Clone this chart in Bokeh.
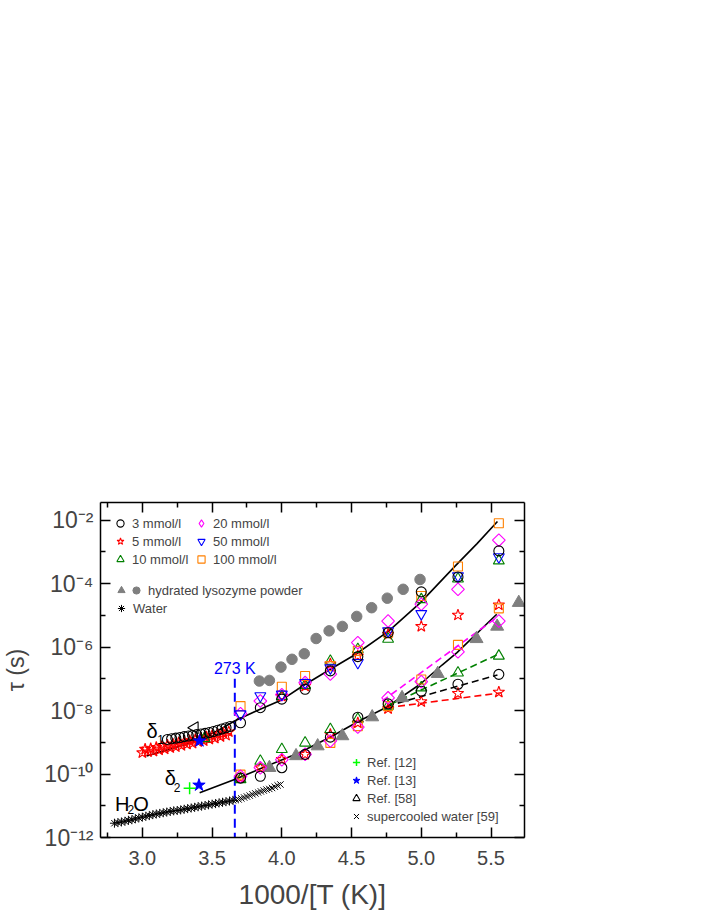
import math
from bokeh.plotting import figure
from bokeh.models import (Range1d, FixedTicker, LinearAxis, LogAxis, Legend,
                          LegendItem, Label, NumeralTickFormatter)
from bokeh.embed import file_html
from bokeh.resources import INLINE
from bokeh.core.properties import value

NAN = float("nan")
FONT = "Liberation Sans"

# ---------------- data ----------------
# measurement temperatures (as 1000/T)
inv_T = [3.704, 3.846, 4.0, 4.167, 4.348, 4.545, 4.762, 5.0, 5.263, 5.556]

# delta1 relaxation times (s)
d1_3mM   = [4.12e-9, 1.23e-8, 2.29e-8, 4.68e-8, 1.78e-7, 5.01e-7, 2.82e-6, 5.50e-5, 1.62e-4, 1.07e-3]
d1_5mM   = [NAN, NAN, 2.82e-8, 5.89e-8, 2.95e-7, 5.25e-7, 2.51e-6, 4.47e-6, 1.02e-5, 2.14e-5]
d1_10mM  = [NAN, NAN, 2.82e-8, 6.31e-8, 3.63e-7, 8.51e-7, 1.78e-6, 3.16e-5, 1.41e-4, 5.25e-4]
d1_20mM  = [7.94e-9, 2.00e-8, 3.16e-8, 7.59e-8, 1.41e-7, 1.38e-6, 6.61e-6, 2.24e-5, 6.61e-5, 2.34e-3]
d1_50mM  = [7.76e-9, 2.88e-8, 3.24e-8, 7.59e-8, 2.19e-7, 3.24e-7, 3.24e-6, 1.12e-5, 1.74e-4, 6.92e-4]
d1_100mM = [1.38e-8, NAN, 5.62e-8, 1.23e-7, 2.51e-7, 7.59e-7, 2.82e-6, 4.07e-5, 3.47e-4, 7.94e-3]

# delta2 relaxation times (s)
d2_3mM   = [7.41e-11, 8.51e-11, 1.58e-10, 4.17e-10, 1.45e-9, 6.17e-9, 1.62e-8, 4.07e-8, 6.76e-8, 1.38e-7]
d2_5mM   = [7.59e-11, 1.58e-10, 2.88e-10, 4.17e-10, 1.78e-9, 4.07e-9, 1.15e-8, 1.91e-8, 3.47e-8, 3.80e-8]
d2_10mM  = [6.76e-11, 2.57e-10, 6.03e-10, 9.55e-10, 2.57e-9, 5.37e-9, 1.38e-8, 5.25e-8, 1.55e-7, 5.25e-7]
d2_20mM  = [8.51e-11, 1.58e-10, 2.82e-10, 4.17e-10, 1.10e-9, 3.02e-9, 2.51e-8, 8.13e-8, 7.08e-7, 6.61e-6]
d2_100mM = [9.55e-11, NAN, NAN, NAN, 9.55e-10, 3.24e-9, 1.38e-8, 9.55e-8, 1.17e-6, 1.66e-5]

# high-temperature delta1 data
hiT_3mM_x   = [3.18, 3.21, 3.24, 3.27, 3.30, 3.33, 3.36, 3.39, 3.42, 3.45, 3.48, 3.51, 3.54, 3.57, 3.60, 3.63]
hiT_3mM_tau = [1.23e-9, 1.29e-9, 1.35e-9, 1.41e-9, 1.51e-9, 1.58e-9, 1.66e-9, 1.74e-9,
               1.82e-9, 1.91e-9, 2.04e-9, 2.19e-9, 2.40e-9, 2.63e-9, 2.88e-9, 3.16e-9]
hiT_5mM_x   = [3.00, 3.04, 3.08, 3.12, 3.16, 3.20, 3.24, 3.28, 3.32, 3.36, 3.40, 3.44, 3.48, 3.52, 3.56, 3.60,
               3.02, 3.06, 3.10, 3.14, 3.18, 3.22, 3.26, 3.30, 3.34, 3.38, 3.42, 3.46, 3.50, 3.54, 3.58, 3.62]
hiT_5mM_tau = [4.68e-10, 5.01e-10, 5.25e-10, 5.75e-10, 6.17e-10, 6.76e-10, 7.24e-10, 7.94e-10,
               8.71e-10, 9.33e-10, 1.05e-9, 1.12e-9, 1.26e-9, 1.35e-9, 1.51e-9, 1.66e-9,
               6.03e-10, 6.31e-10, 6.92e-10, 7.41e-10, 8.13e-10, 8.71e-10, 9.55e-10, 1.02e-9,
               1.12e-9, 1.23e-9, 1.35e-9, 1.48e-9, 1.62e-9, 1.78e-9, 1.95e-9, 2.14e-9]
hiT_10mM_x   = [3.446]
hiT_10mM_tau = [1.32e-9]

# hydrated lysozyme powder
powder_circ_x   = [3.839, 3.911, 3.994, 4.073, 4.161, 4.246, 4.339, 4.434, 4.537, 4.644, 4.756, 4.870, 4.991]
powder_circ_tau = [8.51e-8, 8.91e-8, 2.34e-7, 4.12e-7, 6.17e-7, 1.86e-6, 3.24e-6, 4.47e-6,
                   9.23e-6, 1.74e-5, 3.47e-5, 6.61e-5, 1.35e-4]
powder_tri_x   = [3.911, 4.102, 4.257, 4.434, 4.648, 4.862, 5.118, 5.396, 5.544, 5.699]
powder_tri_tau = [1.58e-10, 3.72e-10, 7.59e-10, 1.58e-9, 6.24e-9, 2.51e-8, 1.45e-7, 1.82e-6, 4.47e-6, 2.51e-5]

# water
water_x   = [2.80, 2.825, 2.85, 2.875, 2.90, 2.925, 2.95, 2.975, 3.00, 3.025, 3.05, 3.075,
             3.10, 3.125, 3.15, 3.175, 3.20, 3.225, 3.25, 3.275, 3.30, 3.325, 3.35, 3.375,
             3.40, 3.425, 3.45, 3.475, 3.50, 3.525, 3.55, 3.575, 3.60, 3.625, 3.65]
water_tau = [2.82e-12, 2.95e-12, 3.09e-12, 3.24e-12, 3.47e-12, 3.63e-12, 3.89e-12, 4.17e-12,
             4.37e-12, 4.68e-12, 4.90e-12, 5.25e-12, 5.50e-12, 5.75e-12, 6.03e-12, 6.31e-12,
             6.61e-12, 6.92e-12, 7.08e-12, 7.41e-12, 7.76e-12, 8.13e-12, 8.51e-12, 8.91e-12,
             9.33e-12, 9.77e-12, 1.02e-11, 1.07e-11, 1.12e-11, 1.17e-11, 1.23e-11, 1.29e-11,
             1.35e-11, 1.41e-11, 1.48e-11]
scw_x   = [3.67, 3.69, 3.71, 3.73, 3.75, 3.77, 3.79, 3.81, 3.83, 3.85, 3.87, 3.89, 3.91, 3.93, 3.95, 3.97, 3.99]
scw_tau = [1.51e-11, 1.58e-11, 1.70e-11, 1.82e-11, 1.95e-11, 2.09e-11, 2.29e-11, 2.45e-11,
           2.63e-11, 2.82e-11, 3.02e-11, 3.24e-11, 3.39e-11, 3.63e-11, 3.98e-11, 4.37e-11, 4.68e-11]

# literature points
ref12_x, ref12_tau = [3.339], [3.55e-11]
ref13_x, ref13_tau = [3.410, 3.406], [1.10e-9, 4.47e-11]
ref58_x, ref58_tau = [3.375], [2.88e-9]

# fits
fit1_x   = [3.03, 3.21, 3.387, 3.55, 3.661, 3.816, 3.994, 4.149, 4.339, 4.530, 4.768, 4.994, 5.244, 5.40, 5.546]
fit1_tau = [3.67e-10, 6.31e-10, 1.09e-9, 2.45e-9, 4.67e-9, 9.64e-9, 2.10e-8, 5.93e-8, 1.89e-7,
            5.93e-7, 3.22e-6, 2.52e-5, 3.61e-4, 1.82e-3, 9.04e-3]
fit2_x   = [3.411, 3.661, 3.875, 4.125, 4.363, 4.554, 4.744, 4.994, 5.149, 5.256, 5.541]
fit2_tau = [2.55e-11, 6.76e-11, 1.66e-10, 4.67e-10, 1.57e-9, 4.67e-9, 1.22e-8, 6.85e-8, 2.72e-7, 6.65e-7, 1.08e-5]
dash_5mM_x,  dash_5mM_tau  = [4.755, 5.575], [1.23e-8, 3.63e-8]
dash_3mM_x,  dash_3mM_tau  = [4.755, 5.546], [1.38e-8, 1.32e-7]
dash_10mM_x, dash_10mM_tau = [4.780, 5.540], [1.58e-8, 5.62e-7]
dash_20mM_x, dash_20mM_tau = [4.720, 5.540], [2.00e-8, 8.51e-6]

T_melt = 273.0
line273_tau = [1.0e-7, 1.0e-12]

# axes ticks / labels
x_major = [3.0, 3.5, 4.0, 4.5, 5.0, 5.5]
x_minor = [2.75, 3.25, 3.75, 4.25, 4.75, 5.25, 5.75]
y_major = [1e-12, 1e-10, 1e-8, 1e-6, 1e-4, 1e-2]
y_minor = [1e-11, 1e-9, 1e-7, 1e-5, 1e-3]
y_labels = ["10\u207b\u00b9\u00b2", "10\u207b\u00b9\u2070", "10\u207b\u2078",
            "10\u207b\u2076", "10\u207b\u2074", "10\u207b\u00b2"]

C_BLACK, C_RED, C_GREEN, C_MAG, C_BLUE, C_ORANGE = "#000000", "#ff0000", "#008000", "#ff00ff", "#0000ff", "#ff8000"
C_GRAY = "#7f7f7f"

# ---------------- figure ----------------
p = figure(frame_width=424, frame_height=335,
           x_range=Range1d(2.70, 5.74), y_range=Range1d(1e-12, 0.0359),
           y_axis_type="log", output_backend="svg", toolbar_location=None,
           min_border_left=93, min_border_top=502, min_border_right=150, min_border_bottom=40,
           background_fill_color="white", border_fill_color="white")
p.xgrid.visible = False
p.ygrid.visible = False
p.outline_line_color = None

xt = FixedTicker(ticks=x_major, minor_ticks=x_minor)
yt = FixedTicker(ticks=y_major, minor_ticks=y_minor)


def style_axis(ax):
    ax.axis_line_width = 1.5
    ax.major_tick_line_width = 1.5
    ax.minor_tick_line_width = 1.5
    ax.major_tick_in = 10
    ax.major_tick_out = 0
    ax.minor_tick_in = 5
    ax.minor_tick_out = 0


xa = p.xaxis[0]
xa.ticker = xt
xa.formatter = NumeralTickFormatter(format="0.0")
xa.axis_label = "1000/[T (K)]"
xa.axis_label_text_font = FONT
xa.axis_label_text_font_size = "28px"
xa.axis_label_text_font_style = "normal"
xa.axis_label_standoff = 11
xa.major_label_text_font = FONT
xa.major_label_text_font_size = "20px"
xa.major_label_standoff = 13
style_axis(xa)

ya = p.yaxis[0]
ya.ticker = yt
ya.major_label_overrides = {v: s for v, s in zip(y_major, y_labels)}
ya.axis_label = "\u03c4 (s)"
ya.axis_label_text_font = FONT
ya.axis_label_text_font_size = "23px"
ya.axis_label_text_font_style = "normal"
ya.axis_label_standoff = 12
ya.major_label_text_font = FONT
ya.major_label_text_font_size = "23px"
ya.major_label_standoff = 7
style_axis(ya)

top_ax = LinearAxis(ticker=xt, major_label_text_color=None)
style_axis(top_ax)
p.add_layout(top_ax, "above")
right_ax = LogAxis(ticker=yt, major_label_text_color=None)
style_axis(right_ax)
p.add_layout(right_ax, "right")

# ---------------- lines ----------------
p.line([1000.0 / T_melt] * 2, line273_tau, line_color=C_BLUE, line_width=2, line_dash="9 5")
p.line(fit1_x, fit1_tau, line_color=C_BLACK, line_width=1.6)
p.line(fit2_x, fit2_tau, line_color=C_BLACK, line_width=1.6)
p.line(dash_20mM_x, dash_20mM_tau, line_color=C_MAG, line_width=1.6, line_dash="7 4")
p.line(dash_10mM_x, dash_10mM_tau, line_color=C_GREEN, line_width=1.6, line_dash="7 4")
p.line(dash_3mM_x, dash_3mM_tau, line_color=C_BLACK, line_width=1.6, line_dash="7 4")
p.line(dash_5mM_x, dash_5mM_tau, line_color=C_RED, line_width=1.6, line_dash="7 4")

# ---------------- markers ----------------
LW = 1.1


def omark(x, y, marker, color, size, angle=0.0):
    return p.scatter(x, y, marker=marker, size=size, angle=angle, fill_color=None,
                     line_color=color, line_width=LW)


r_powder_c = p.scatter(powder_circ_x, powder_circ_tau, marker="circle", size=10.5,
                       fill_color=C_GRAY, line_color=C_GRAY)
r_powder_t = p.scatter(powder_tri_x, powder_tri_tau, marker="triangle", size=13,
                       fill_color=C_GRAY, line_color=C_GRAY)

r_water = p.scatter(water_x, water_tau, marker="asterisk", size=9, line_color=C_BLACK, line_width=1)
r_scw = p.scatter(scw_x, scw_tau, marker="x", size=9, line_color=C_BLACK, line_width=1)

r5 = omark(inv_T, d1_5mM, "star", C_RED, 12)
omark(inv_T, d2_5mM, "star", C_RED, 12)
omark(hiT_5mM_x, hiT_5mM_tau, "star", C_RED, 12)

r10 = omark(inv_T, d1_10mM, "triangle", C_GREEN, 11)
omark(inv_T, d2_10mM, "triangle", C_GREEN, 11)
omark(hiT_10mM_x, hiT_10mM_tau, "triangle", C_GREEN, 11)

r100 = omark(inv_T, d1_100mM, "square", C_ORANGE, 9)
omark(inv_T, d2_100mM, "square", C_ORANGE, 9)

omark(inv_T, d1_20mM, "square", C_MAG, 9, math.pi / 4)
omark(inv_T, d2_20mM, "square", C_MAG, 9, math.pi / 4)
# legend symbol for the 20 mmol/l series (not drawn in the plot area)
r20 = p.scatter([NAN], [NAN], marker="diamond", size=12, fill_color=None, line_color=C_MAG, line_width=LW)

r50 = omark(inv_T, d1_50mM, "inverted_triangle", C_BLUE, 11)

r3 = omark(inv_T, d1_3mM, "circle", C_BLACK, 10)
omark(inv_T, d2_3mM, "circle", C_BLACK, 10)
omark(hiT_3mM_x, hiT_3mM_tau, "circle", C_BLACK, 10)

r58 = omark(ref58_x, ref58_tau, "triangle", C_BLACK, 12, math.pi / 2)
r13 = p.scatter(ref13_x, ref13_tau, marker="star", size=13, fill_color=C_BLUE, line_color=C_BLUE)
r12 = p.scatter(ref12_x, ref12_tau, marker="cross", size=12, line_color="#00ff00", line_width=1.5)

# ---------------- annotations ----------------
def lab(x, y, text, size, color=C_BLACK, align="left"):
    p.add_layout(Label(x=x, y=y, text=text, text_font=FONT, text_font_size=size,
                       text_color=color, text_align=align, text_baseline="alphabetic"))


lab(1000.0 / T_melt, 2.1e-7, "273 K", "16px", C_BLUE, "center")
lab(3.030, 2.2e-9, "\u03b4", "20px")
lab(3.107, 1.2e-9, "1", "12px")
lab(3.161, 7.5e-11, "\u03b4", "20px")
lab(3.225, 3.9e-11, "2", "12px")
lab(2.804, 1.16e-11, "H", "20px")
lab(2.894, 7.5e-12, "2", "12px")
lab(2.934, 1.16e-11, "O", "20px")

# ---------------- legends ----------------
def make_legend(pairs, loc, standoff=2):
    items = [LegendItem(label=value(t), renderers=[r]) for t, r in pairs]
    lg = Legend(items=items, location=loc, orientation="vertical",
                label_text_font=FONT, label_text_font_size="13px",
                glyph_width=20, glyph_height=18, label_height=17,
                padding=0, margin=0, label_standoff=standoff, spacing=0,
                border_line_color=None, background_fill_alpha=0)
    p.add_layout(lg)
    return lg


make_legend([("3 mmol/l", r3), ("5 mmol/l", r5), ("10 mmol/l", r10)], (10, 269))
make_legend([("20 mmol/l", r20), ("50 mmol/l", r50), ("100 mmol/l", r100)], (91, 269))
make_legend([(" ", r_powder_t)], (11, 238))
make_legend([("hydrated lysozyme powder", r_powder_c)], (26, 238))
make_legend([("Water", r_water)], (11, 220))
make_legend([("Ref. [12]", r12), ("Ref. [13]", r13), ("Ref. [58]", r58),
             ("supercooled water [59]", r_scw)], (246, 12), standoff=1)

open("out.html", "w").write(file_html(p, INLINE))
